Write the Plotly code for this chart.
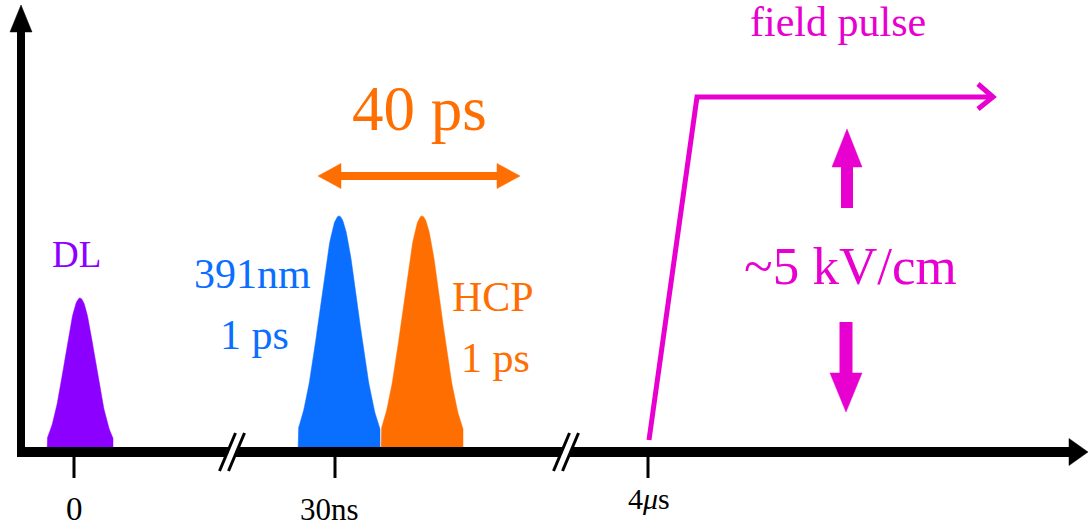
import numpy as np
import plotly.graph_objects as go

# ---------------- data (diagram units: x to the right, y up from the time axis) ----------------
tick_pos = [74, 335, 648]
tick_labels = ["0", "30ns", "4<i>μ</i>s"]
tick_label_size = [33, 31, 30]
tick_label_y = [-57, -57, -46]
tick_label_x = [74, 329, 649]
break_pos = [232, 566]

pulse_names = ["DL", "391nm", "HCP"]
pulse_centers = [80, 339, 422]
pulse_heights = [154, 236, 236]
pulse_sigma = [15, 19, 19]
pulse_halfbase = [33, 41, 41]

field_x = [649, 697, 990]
field_y = [12, 355, 355]

PURPLE = "#8C00FF"
BLUE = "#0A6EFF"
ORANGE = "#FF6E00"
MAGENTA = "#E800D0"
FONT = "Liberation Serif, Times New Roman, serif"

pulse_colors = [PURPLE, BLUE, ORANGE]

fig = go.Figure()


def add_line(xs, ys, color, width):
    fig.add_trace(go.Scatter(x=xs, y=ys, mode="lines", line=dict(color=color, width=width),
                             hoverinfo="skip", showlegend=False))


def add_poly(xs, ys, color):
    fig.add_trace(go.Scatter(x=xs, y=ys, mode="lines", fill="toself", fillcolor=color,
                             line=dict(color=color, width=0.5), hoverinfo="skip", showlegend=False))


# pulses
for c, h, s, hb, col in zip(pulse_centers, pulse_heights, pulse_sigma, pulse_halfbase, pulse_colors):
    xx = np.linspace(-hb, hb, 121)
    yy = h * np.exp(-xx ** 2 / (2 * s ** 2))
    xs = np.concatenate([[c - hb], c + xx, [c + hb]])
    ys = np.concatenate([[0], yy, [0]])
    add_poly(xs, ys, col)

# vertical axis with arrow
add_line([21, 21], [-5, 422], "black", 8)
add_poly([10, 21, 32, 10], [420, 447, 420, 420], "black")
# horizontal axis with arrow
add_line([17, 1072], [0, 0], "black", 10)
add_poly([1069, 1088, 1069, 1069], [13.5, 0, -13.5, 13.5], "black")

# ticks
for t in tick_pos:
    add_line([t, t], [-5, -26], "black", 3)

# axis breaks
for b in break_pos:
    add_line([b - 8, b + 8], [-19, 19], "white", 7)
    for d in (-4.5, 4.5):
        add_line([b + d - 8, b + d + 8], [-19, 19], "black", 3)

# orange double arrow (40 ps)
add_line([338, 500], [276, 276], ORANGE, 8)
add_poly([318, 341, 341, 318], [276, 288.5, 263.5, 276], ORANGE)
add_poly([520, 497, 497, 520], [276, 288.5, 263.5, 276], ORANGE)

# field pulse
add_line(field_x, field_y, MAGENTA, 5)
add_line([978, 993, 978], [368, 355, 343], MAGENTA, 5)

# field amplitude arrows
add_line([847, 847], [244, 287], MAGENTA, 12)
add_poly([832, 847, 862, 832], [285, 323, 285, 285], MAGENTA)
add_line([846, 846], [130, 77], MAGENTA, 13)
add_poly([830, 846, 862, 830], [79, 40, 79, 79], MAGENTA)

# text
texts = [
    ("40 ps", 419, 343, 63, ORANGE),
    ("DL", 76, 198, 37, PURPLE),
    ("391nm", 252, 178, 42, BLUE),
    ("1 ps", 254, 117, 42, BLUE),
    ("HCP", 493, 155, 42, ORANGE),
    ("1 ps", 495, 94, 42, ORANGE),
    ("field pulse", 838, 430, 42, MAGENTA),
    ("~5 kV/cm", 850, 186, 53, MAGENTA),
]
for lab, x, y, size, col in texts:
    fig.add_annotation(x=x, y=y, text=lab, showarrow=False, xanchor="center", yanchor="middle",
                       font=dict(family=FONT, size=size, color=col))

for lab, x, y, size in zip(tick_labels, tick_label_x, tick_label_y, tick_label_size):
    fig.add_annotation(x=x, y=y, text=lab, showarrow=False, xanchor="center", yanchor="middle",
                       font=dict(family=FONT, size=size, color="black"))

fig.update_layout(
    width=1088, height=529,
    margin=dict(l=0, r=0, t=0, b=0),
    paper_bgcolor="white", plot_bgcolor="white",
    xaxis=dict(range=[0, 1088], visible=False, fixedrange=True),
    yaxis=dict(range=[-77, 452], visible=False, fixedrange=True),
    showlegend=False,
)

fig.write_html("out.html")
